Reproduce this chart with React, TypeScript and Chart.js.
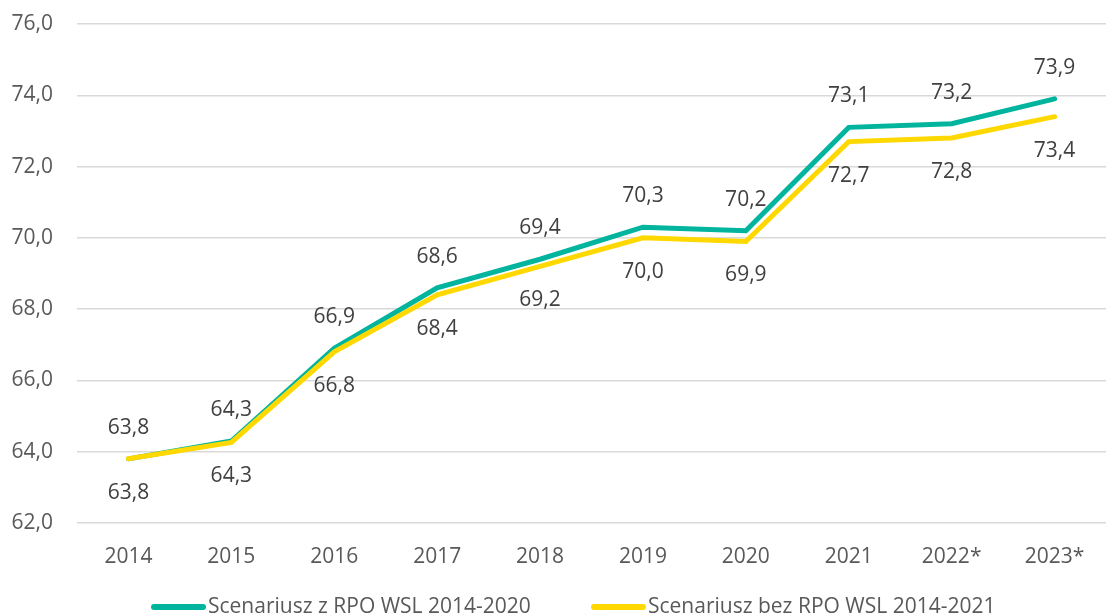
import React, { useEffect, useRef } from "react";
import { Chart, registerables } from "chart.js";

Chart.register(...registerables);

const categories = ["2014", "2015", "2016", "2017", "2018", "2019", "2020", "2021", "2022*", "2023*"];
const withRpo = [63.8, 64.3, 66.9, 68.6, 69.4, 70.3, 70.2, 73.1, 73.2, 73.9];
const withoutRpo = [63.8, 64.26, 66.8, 68.4, 69.2, 70.0, 69.9, 72.7, 72.8, 73.4];
const seriesNames = ["Scenariusz z RPO WSL 2014-2020", "Scenariusz bez RPO WSL 2014-2021"];
const seriesColors = ["#00B49D", "#FFD800"];
const yTicks = { min: 62, max: 76, step: 2 };

const FONT = "'Open Sans', 'DejaVu Sans', sans-serif";
const fmt = (v: number) => v.toFixed(1).replace(".", ",");

const dataLabelPlugin = {
  id: "dataLabels",
  afterDatasetsDraw(chart: any) {
    const ctx = chart.ctx;
    ctx.save();
    ctx.font = `21px ${FONT}`;
    ctx.fillStyle = "#404040";
    ctx.textAlign = "center";
    ctx.textBaseline = "middle";
    chart.data.datasets.forEach((ds: any, di: number) => {
      const meta = chart.getDatasetMeta(di);
      const off = di === 0 ? -31 : 34;
      meta.data.forEach((el: any, i: number) => {
        ctx.fillText(fmt(ds.data[i]), el.x, el.y + off);
      });
    });
    ctx.restore();
  },
};

const legendPlugin = {
  id: "customLegend",
  afterDraw(chart: any) {
    const ctx = chart.ctx;
    const y = 607;
    const starts = [151, 591];
    ctx.save();
    ctx.font = `21px ${FONT}`;
    ctx.fillStyle = "#595959";
    ctx.textBaseline = "middle";
    ctx.textAlign = "left";
    seriesNames.forEach((name, i) => {
      const x = starts[i];
      ctx.strokeStyle = seriesColors[i];
      ctx.lineWidth = 6;
      ctx.lineCap = "round";
      ctx.beginPath();
      ctx.moveTo(x + 3, y);
      ctx.lineTo(x + 52, y);
      ctx.stroke();
      ctx.fillText(name, x + 57, y);
    });
    ctx.restore();
  },
};

export default function App() {
  const ref = useRef<HTMLCanvasElement | null>(null);
  useEffect(() => {
    if (!ref.current) return;
    const chart = new Chart(ref.current, {
      type: "line",
      data: {
        labels: categories,
        datasets: [
          {
            label: seriesNames[0],
            data: withRpo,
            borderColor: seriesColors[0],
            backgroundColor: seriesColors[0],
            borderWidth: 5,
            borderCapStyle: "round",
            pointRadius: 0,
            tension: 0,
            order: 1,
          },
          {
            label: seriesNames[1],
            data: withoutRpo,
            borderColor: seriesColors[1],
            backgroundColor: seriesColors[1],
            borderWidth: 5,
            borderCapStyle: "round",
            pointRadius: 0,
            tension: 0,
            order: 0,
          },
        ],
      },
      options: {
        responsive: false,
        animation: false,
        devicePixelRatio: 1,
        layout: { padding: { top: 24, right: -10, left: 0, bottom: 42 } },
        plugins: {
          legend: { display: false },
          tooltip: { enabled: false },
        },
        scales: {
          x: {
            offset: true,
            grid: { display: false, drawTicks: false },
            border: { display: false },
            ticks: {
              color: "#595959",
              font: { family: FONT, size: 21 },
              padding: 21,
              maxRotation: 0,
            },
            afterFit: (s: any) => {
              s.height = 51;
              s.paddingLeft = 0;
              s.paddingRight = 0;
            },
          },
          y: {
            min: yTicks.min,
            max: yTicks.max,
            grid: { color: "#D9D9D9", lineWidth: 1.5, drawTicks: false },
            border: { display: false },
            ticks: {
              stepSize: yTicks.step,
              color: "#595959",
              font: { family: FONT, size: 21 },
              padding: 24,
              callback: (v: any) => fmt(Number(v)),
            },
            afterFit: (s: any) => {
              s.width = 77;
              s.paddingTop = 0;
              s.paddingBottom = 0;
            },
          },
        },
      },
      plugins: [dataLabelPlugin, legendPlugin],
    });
    return () => chart.destroy();
  }, []);
  return (
    <div style={{ position: "fixed", left: 0, top: 0, width: 1106, height: 616, background: "#fff" }}>
      <canvas ref={ref} width={1106} height={616} />
    </div>
  );
}
